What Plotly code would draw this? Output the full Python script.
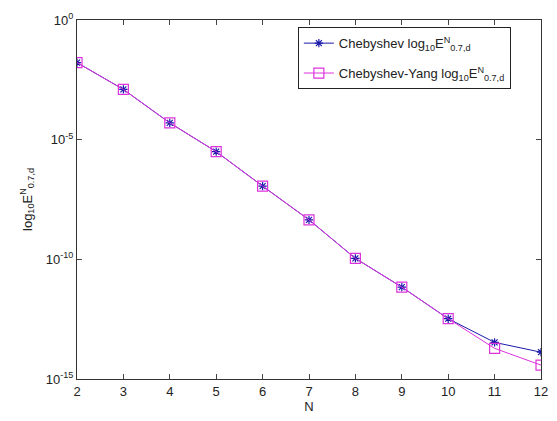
import plotly.graph_objects as go

N = [2, 3, 4, 5, 6, 7, 8, 9, 10, 11, 12]
log_cheb = [-1.78, -2.9, -4.3, -5.5, -6.94, -8.35, -9.96, -11.16, -12.48, -13.47, -13.88]
log_yang = [-1.78, -2.9, -4.3, -5.5, -6.94, -8.35, -9.96, -11.16, -12.48, -13.72, -14.42]
cheb = [10 ** v for v in log_cheb]
yang = [10 ** v for v in log_yang]

ytick_vals = [1, 1e-5, 1e-10, 1e-15]
ytick_text = ["10<sup>0</sup>", "10<sup>-5</sup>", "10<sup>-10</sup>", "10<sup>-15</sup>"]
xtick_vals = list(range(2, 13))

font = dict(family="Liberation Sans, Arial, sans-serif", size=13, color="#222222")

fig = go.Figure()
fig.add_trace(go.Scatter(
    x=N, y=cheb, mode="lines+markers",
    name="Chebyshev log<sub>10</sub>E<sup>N</sup><sub>0.7,d</sub>",
    legendgroup="a",
    line=dict(color="#1a1aaa", width=1),
    marker=dict(symbol="asterisk-open", size=7, color="#1a1aaa", line=dict(color="#1a1aaa", width=1.2)),
))
fig.add_trace(go.Scatter(
    x=N, y=yang, mode="lines+markers",
    name="Chebyshev-Yang log<sub>10</sub>E<sup>N</sup><sub>0.7,d</sub>",
    legendgroup="b",
    line=dict(color="#dd33dd", width=1),
    marker=dict(symbol="square-open", size=10, color="#dd33dd", line=dict(color="#dd33dd", width=1.2)),
))

fig.update_layout(
    width=557, height=421,
    margin=dict(l=77, r=9, t=20, b=38),
    paper_bgcolor="white", plot_bgcolor="white",
    font=font,
    showlegend=True,
    legend=dict(
        x=0.476, y=0.98, xanchor="left", yanchor="top",
        bgcolor="white", bordercolor="#222222", borderwidth=1,
        font=dict(family="Liberation Sans, Arial, sans-serif", size=13, color="#222222"),
        tracegroupgap=10,
    ),
)
fig.update_xaxes(
    range=[2, 12], tickvals=xtick_vals, ticks="inside", ticklen=5,
    showline=True, linecolor="#333333", linewidth=1, mirror="ticks",
    showgrid=False, zeroline=False,
    title=dict(text="N", standoff=4, font=font),
)
fig.update_yaxes(
    type="log", range=[-15, 0], tickvals=ytick_vals, ticktext=ytick_text,
    ticks="inside", ticklen=5,
    showline=True, linecolor="#333333", linewidth=1, mirror="ticks",
    showgrid=False, zeroline=False,
    title=dict(text="log<sub>10</sub>E<sup>N</sup><sub>0.7,d</sub>", standoff=10, font=font),
)

fig.write_html("out.html")
